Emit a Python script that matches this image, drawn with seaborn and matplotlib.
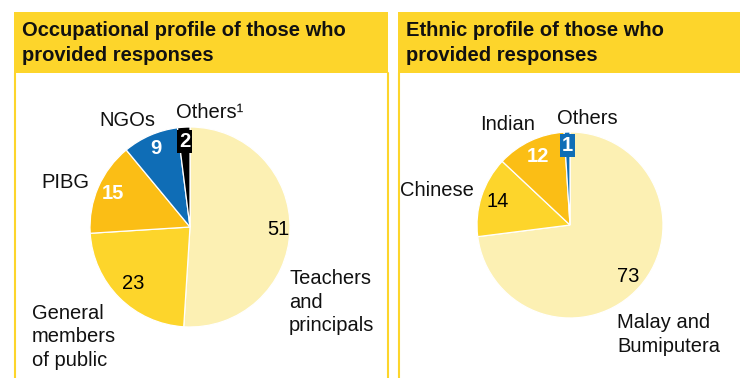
import matplotlib.pyplot as plt
import numpy as np
import seaborn as sns
from matplotlib.patches import Rectangle

# data
occ_labels = ['Teachers\nand\nprincipals', 'General\nmembers\nof public', 'PIBG', 'NGOs', 'Others¹']
occ_values = [51, 23, 15, 9, 2]
eth_labels = ['Malay and\nBumiputera', 'Chinese', 'Indian', 'Others']
eth_values = [73, 14, 12, 1]

LIGHT = '#FCF0B3'
YELLOW = '#FDD52B'
AMBER = '#FBBE15'
BLUE = '#0F6DB6'
BLACK = '#000000'

sns.set_theme(style="white")
plt.rcParams['font.family'] = ['Liberation Sans', 'DejaVu Sans']

W, H = 740, 378
fig = plt.figure(figsize=(7.4, 3.78), dpi=100)
ax = fig.add_axes([0, 0, 1, 1])
FS = 14.5


def Y(y):
    return H - y


def draw_pie(values, colors, center, radius, dists, styles):
    wedges, _ = ax.pie(values, colors=colors, startangle=90, counterclock=False,
                       center=(center[0], Y(center[1])), radius=radius,
                       wedgeprops=dict(edgecolor='white', linewidth=0.9))
    for w, v, d, st in zip(wedges, values, dists, styles):
        mid = np.deg2rad((w.theta1 + w.theta2) / 2)
        x = center[0] + radius * d * np.cos(mid)
        y = Y(center[1]) + radius * d * np.sin(mid)
        if st == 'plain':
            ax.text(x, y, str(v), ha='center', va='center', fontsize=FS, color='black')
        elif st == 'bold':
            ax.text(x, y, str(v), ha='center', va='center', fontsize=FS,
                    color='white', fontweight='bold')
        else:
            ax.text(x, y, str(v), ha='center', va='center', fontsize=FS,
                    color='white', fontweight='bold',
                    bbox=dict(boxstyle='square,pad=0.1', fc=st, ec='none'))


draw_pie(occ_values, [LIGHT, YELLOW, AMBER, BLUE, BLACK], (190, 227), 100,
         [0.88, 0.8, 0.84, 0.85, 0.86], ['plain', 'plain', 'bold', 'bold', BLACK])
draw_pie(eth_values, [LIGHT, YELLOW, AMBER, BLUE], (570, 225), 93,
         [0.83, 0.82, 0.81, 0.86], ['plain', 'plain', 'bold', BLUE])

# category labels
occ_pos = [(289, 269, 'left', 'top'), (32, 304, 'left', 'top'), (65, 182, 'center', 'center'),
           (127, 120, 'center', 'center'), (210, 113, 'center', 'center')]
eth_pos = [(617, 313, 'left', 'top'), (437, 190, 'center', 'center'),
           (508, 125, 'center', 'center'), (587, 118, 'center', 'center')]
for labels, pos in [(occ_labels, occ_pos), (eth_labels, eth_pos)]:
    for lab, (x, y, ha, va) in zip(labels, pos):
        ax.text(x, Y(y), lab, ha=ha, va=va, fontsize=FS, color='#111111', linespacing=1.3)

# headers and panel borders
ax.add_patch(Rectangle((14, Y(73)), 374, 61, fc=YELLOW, ec='none', zorder=0))
ax.add_patch(Rectangle((398, Y(73)), 345, 61, fc=YELLOW, ec='none', zorder=0))
for x in [15, 387.5, 398.5]:
    ax.plot([x, x], [Y(73), 0], color=YELLOW, lw=1.5, zorder=0)

ax.text(22, Y(43), 'Occupational profile of those who\nprovided responses', ha='left', va='center',
        fontsize=FS, fontweight='bold', color='#111111', linespacing=1.35)
ax.text(406, Y(43), 'Ethnic profile of those who\nprovided responses', ha='left', va='center',
        fontsize=FS, fontweight='bold', color='#111111', linespacing=1.35)

ax.set_xlim(0, W)
ax.set_ylim(0, H)
ax.set_aspect('auto')
ax.axis('off')

fig.savefig('out.png', dpi=100)
